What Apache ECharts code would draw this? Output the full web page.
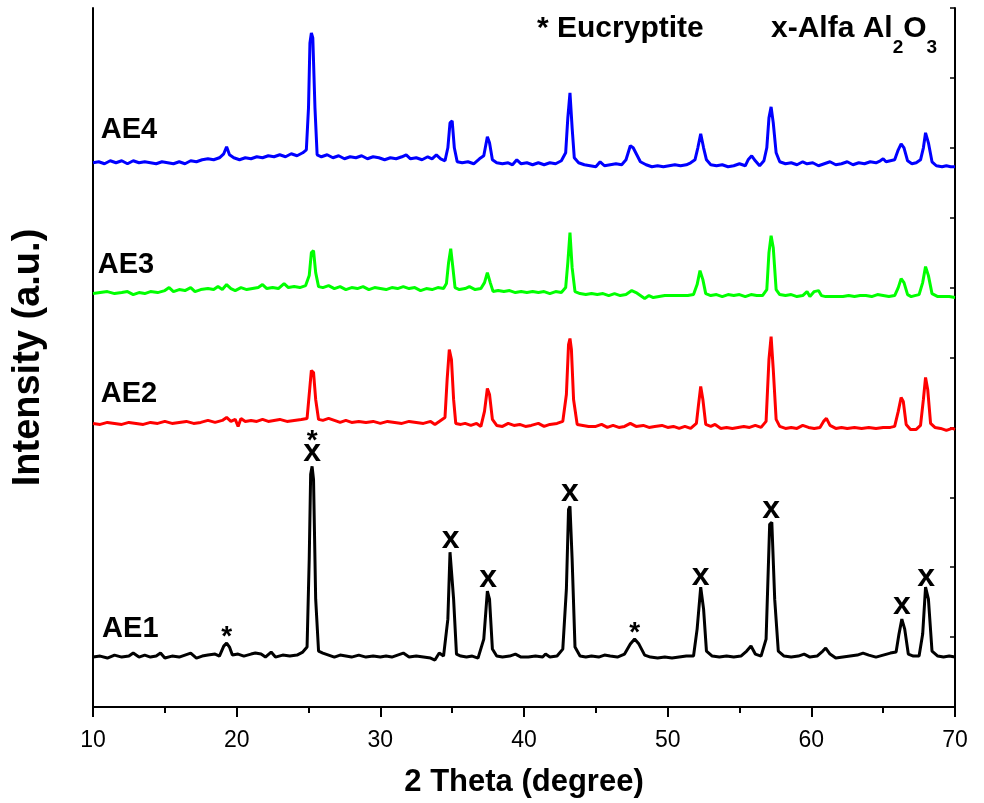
<!DOCTYPE html>
<html>
<head>
  <meta http-equiv="Content-Type" content="text/html; charset=utf-8"/>
  <title>XRD AE1-AE4</title>
  <script src="https://cdn.jsdelivr.net/npm/echarts@6.0.0/dist/echarts.min.js"></script>
</head>
<body style="margin:0px">
<div id="main" style="width:984px;height:803px;"></div>

<script type="text/javascript">
// intensity in a.u., curves already stacked (offset) as in the figure
var ae1 = [[10,50],[10.5,51],[11,49],[11.5,52],[12,50],[12.5,51],[12.8,54],[13.2,50],[13.6,52],[14,50],[14.4,51],[14.7,54],[15,49],[15.5,51],[16,50],[16.4,52],[16.8,54],[17.2,49],[17.6,51],[18,52],[18.5,53],[18.8,51],[19.1,61],[19.3,64],[19.5,60],[19.7,52],[20.1,53],[20.5,51],[21,53],[21.3,54],[21.7,53],[22,50],[22.4,55],[22.7,50],[23.2,52],[23.7,51],[24.2,52],[24.6,55],[24.9,60],[25.05,148],[25.15,233],[25.25,241],[25.35,228],[25.5,108],[25.7,56],[26,54],[26.4,52],[26.8,50],[27.2,52],[27.6,51],[28,50],[28.5,52],[29,50],[29.5,51],[30,50],[30.4,51],[30.8,50],[31.2,52],[31.6,54],[32,50],[32.5,51],[33,50],[33.5,49],[33.8,47],[34.1,54],[34.4,51],[34.7,88],[34.85,155],[34.95,153],[35.1,108],[35.3,53],[35.6,51],[36,50],[36.4,51],[36.8,49],[37.2,68],[37.45,116],[37.6,108],[37.8,58],[38.1,51],[38.5,50],[39,51],[39.4,53],[39.8,50],[40.3,50],[40.8,51],[41.3,50],[41.5,53],[41.8,50],[42.3,51],[42.7,58],[42.95,118],[43.1,198],[43.2,201],[43.35,148],[43.55,60],[43.9,51],[44.3,50],[44.7,51],[45.2,50],[45.6,52],[46,51],[46.5,50],[47,53],[47.4,63],[47.7,68],[48,63],[48.4,52],[48.8,50],[49.3,49],[49.8,50],[50.3,49],[50.8,50],[51.3,51],[51.8,51],[52.05,78],[52.3,120],[52.5,98],[52.7,56],[53.1,51],[53.6,50],[54.1,51],[54.6,50],[55.1,51],[55.5,56],[55.8,61],[56.1,53],[56.5,51],[56.85,68],[57.1,183],[57.25,185],[57.45,108],[57.7,56],[58.1,51],[58.6,50],[59.1,51],[59.5,53],[59.9,50],[60.4,51],[60.8,56],[61,59],[61.3,53],[61.7,49],[62.2,50],[62.7,51],[63.2,52],[63.6,54],[64,52],[64.5,50],[65,52],[65.5,54],[65.9,55],[66.1,73],[66.3,88],[66.5,78],[66.75,53],[67.1,51],[67.5,51],[67.75,73],[67.95,120],[68.15,108],[68.4,56],[68.8,51],[69.2,50],[69.6,51],[70,50]];

var ae2 = [[10,284],[10.5,283],[11,285],[11.5,284],[12,283],[12.5,285],[13,284],[13.5,283],[14,285],[14.5,284],[15,286],[15.5,284],[16,285],[16.5,286],[17,284],[17.5,285],[18,287],[18.5,285],[19,287],[19.3,290],[19.6,286],[19.9,288],[20.1,281],[20.3,289],[20.6,286],[21,287],[21.4,286],[21.8,288],[22.2,286],[22.6,287],[23,288],[23.5,286],[24,287],[24.5,288],[24.9,289],[25.05,313],[25.2,337],[25.35,335],[25.5,308],[25.7,288],[26,287],[26.4,289],[26.8,287],[27.2,285],[27.6,287],[28,285],[28.5,286],[29,285],[29.5,286],[30,284],[30.5,286],[31,285],[31.5,284],[32,286],[32.5,285],[33,284],[33.5,286],[33.8,283],[34.1,286],[34.5,290],[34.65,328],[34.8,358],[34.95,348],[35.1,308],[35.25,284],[35.6,283],[35.9,284],[36.3,282],[36.7,284],[37,281],[37.25,296],[37.45,319],[37.6,313],[37.8,288],[38.1,282],[38.5,281],[38.9,284],[39.3,282],[39.7,283],[40.1,281],[40.5,282],[41,284],[41.4,281],[41.8,283],[42.3,284],[42.7,286],[42.95,313],[43.1,363],[43.2,369],[43.3,358],[43.45,308],[43.7,283],[44.1,282],[44.5,281],[45,281],[45.4,283],[45.8,280],[46.2,282],[46.6,280],[47,281],[47.4,284],[47.8,281],[48.3,282],[48.7,280],[49.1,281],[49.6,282],[50,280],[50.4,281],[50.8,279],[51.2,281],[51.6,279],[52,284],[52.15,303],[52.3,321],[52.45,308],[52.65,283],[53,281],[53.3,283],[53.7,279],[54.1,280],[54.5,279],[54.9,280],[55.3,281],[55.7,280],[56.1,282],[56.5,280],[56.85,286],[57.05,348],[57.2,371],[57.35,338],[57.55,288],[57.8,281],[58.2,279],[58.6,280],[59,279],[59.4,282],[59.8,280],[60.2,279],[60.6,280],[60.85,286],[61.05,289],[61.3,282],[61.7,279],[62.1,280],[62.5,279],[63,280],[63.5,279],[64,280],[64.5,279],[65,280],[65.5,280],[65.8,281],[66.05,296],[66.25,310],[66.4,306],[66.6,283],[66.9,278],[67.3,278],[67.6,282],[67.8,308],[67.95,330],[68.1,318],[68.3,284],[68.6,280],[69,279],[69.4,277],[69.8,279],[70,278]];

var ae3 = [[10,414],[10.5,415],[11,416],[11.5,414],[12,415],[12.4,416],[12.8,413],[13.2,415],[13.6,414],[14,416],[14.5,415],[15,417],[15.3,420],[15.6,416],[16,418],[16.4,417],[16.8,420],[17.1,416],[17.5,418],[18,419],[18.4,418],[18.7,421],[19,418],[19.3,423],[19.6,419],[19.9,417],[20.3,420],[20.7,418],[21.1,419],[21.5,420],[21.8,423],[22.1,419],[22.5,420],[22.9,419],[23.3,424],[23.6,420],[24,421],[24.4,420],[24.8,422],[25.05,432],[25.2,455],[25.35,457],[25.5,435],[25.7,421],[26,420],[26.4,422],[26.8,419],[27.2,421],[27.6,418],[28,420],[28.4,419],[28.8,421],[29.2,418],[29.6,420],[30,419],[30.4,418],[30.8,420],[31.2,419],[31.6,421],[32,419],[32.4,420],[32.8,417],[33.2,419],[33.6,418],[34,420],[34.4,419],[34.6,424],[34.75,445],[34.9,459],[35.05,440],[35.2,420],[35.5,418],[35.9,419],[36.2,421],[36.6,418],[37,419],[37.25,425],[37.45,435],[37.65,425],[37.85,416],[38.2,417],[38.6,416],[39,417],[39.4,415],[39.8,416],[40.2,415],[40.6,416],[41,415],[41.4,416],[41.8,414],[42.2,416],[42.6,415],[42.9,420],[43.05,445],[43.2,475],[43.35,440],[43.55,416],[43.9,414],[44.3,413],[44.7,414],[45.1,413],[45.5,414],[45.9,412],[46.3,414],[46.7,412],[47.1,413],[47.5,417],[47.8,415],[48.1,412],[48.4,409],[48.7,412],[49,410],[49.4,411],[49.8,412],[50.2,412],[50.6,412],[51,412],[51.4,412],[51.8,413],[52.05,423],[52.25,437],[52.45,428],[52.65,414],[53,412],[53.4,413],[53.8,411],[54.2,413],[54.6,412],[55,413],[55.4,411],[55.8,413],[56.2,412],[56.6,412],[56.9,418],[57.05,455],[57.2,472],[57.35,460],[57.55,418],[57.8,413],[58.2,412],[58.6,413],[59,411],[59.4,412],[59.7,416],[59.9,411],[60.2,416],[60.5,417],[60.7,412],[61,411],[61.4,411],[61.8,411],[62.2,411],[62.6,412],[63,411],[63.4,412],[63.8,412],[64.2,411],[64.6,413],[65,412],[65.4,411],[65.8,412],[66.05,420],[66.25,429],[66.45,425],[66.7,413],[66.95,411],[67.2,412],[67.5,413],[67.75,425],[67.95,441],[68.15,432],[68.4,414],[68.8,411],[69.2,411],[69.6,411],[70,410]];

var ae4 = [[10,545],[10.4,546],[10.8,544],[11.2,547],[11.6,545],[12,547],[12.4,544],[12.8,547],[13.2,545],[13.6,546],[14,545],[14.4,544],[14.8,546],[15.2,545],[15.6,544],[16,546],[16.4,544],[16.8,547],[17.2,546],[17.6,548],[18,549],[18.4,548],[18.8,550],[19.1,554],[19.3,561],[19.5,553],[19.8,550],[20.2,548],[20.6,550],[21,549],[21.4,551],[21.8,550],[22.2,552],[22.6,551],[23,553],[23.4,551],[23.8,554],[24.2,552],[24.6,555],[24.85,558],[25,600],[25.1,665],[25.2,675],[25.3,670],[25.45,600],[25.6,553],[25.9,551],[26.3,553],[26.7,550],[27.1,552],[27.5,549],[27.9,551],[28.3,550],[28.7,552],[29.1,549],[29.5,551],[29.9,550],[30.3,548],[30.7,550],[31.1,549],[31.5,551],[31.8,553],[32.1,549],[32.5,550],[32.9,548],[33.3,551],[33.6,549],[33.9,553],[34.2,549],[34.5,547],[34.7,560],[34.85,585],[35,587],[35.15,560],[35.35,546],[35.7,545],[36.1,546],[36.5,544],[36.9,549],[37.2,552],[37.45,571],[37.6,565],[37.8,548],[38.1,545],[38.5,544],[38.9,545],[39.2,543],[39.5,548],[39.8,544],[40.2,545],[40.6,543],[41,545],[41.4,543],[41.8,545],[42.2,544],[42.6,547],[42.9,555],[43.05,590],[43.2,615],[43.35,580],[43.5,550],[43.8,545],[44.2,543],[44.6,542],[45,541],[45.3,546],[45.6,542],[46,543],[46.4,544],[46.8,543],[47.1,548],[47.4,562],[47.6,560],[47.85,553],[48.1,546],[48.5,543],[48.9,541],[49.3,542],[49.7,541],[50.1,542],[50.5,543],[50.9,542],[51.3,543],[51.6,545],[51.9,548],[52.1,560],[52.3,574],[52.5,560],[52.7,548],[53,543],[53.4,542],[53.8,543],[54.2,541],[54.6,542],[55,544],[55.4,542],[55.6,548],[55.85,552],[56.1,547],[56.4,542],[56.7,547],[56.9,560],[57.05,590],[57.2,601],[57.35,585],[57.55,555],[57.8,546],[58.2,544],[58.6,545],[59,543],[59.4,546],[59.7,544],[60.1,545],[60.5,542],[60.9,544],[61.3,546],[61.7,543],[62.1,544],[62.5,546],[62.9,543],[63.3,545],[63.7,544],[64.1,546],[64.5,545],[64.8,547],[65,549],[65.2,546],[65.5,547],[65.8,548],[66.05,558],[66.25,564],[66.45,560],[66.7,547],[67,544],[67.3,545],[67.6,548],[67.8,560],[67.95,575],[68.15,565],[68.4,546],[68.7,542],[69.1,541],[69.4,542],[69.7,541],[70,541]];

// peak markers on AE1 (x = alpha Al2O3, * = eucryptite)
var xMarks = [[25.25,255],[34.9,168],[37.5,129],[43.2,215],[52.3,131],[57.2,198],[66.3,102],[68.0,130]];
var starMarks = [[19.3,70],[25.25,266],[47.7,74]];
// sample names
var sampleNames = ['AE1','AE2','AE3','AE4'];
var samplePos = [[10.6,78],[10.5,313],[10.3,443],[10.5,578]];
var xTicks = [10,20,30,40,50,60,70];

var font = 'Arial, "Liberation Sans", sans-serif';

function lineSeries(name, data, color){
  return {
    name: name, type: 'line', data: data,
    showSymbol: false, symbol: 'none',
    lineStyle: {color: color, width: 3},
    itemStyle: {color: color},
    animation: false, z: 3
  };
}

function textSeries(pts, texts, fontSize, pos){
  var d = [];
  for(var i=0;i<pts.length;i++){
    d.push({value: pts[i], name: texts[i]});
  }
  return {
    type: 'scatter', data: d, symbolSize: 1,
    itemStyle: {color: 'rgba(0,0,0,0)', opacity: 1},
    label: {
      show: true, position: pos, distance: 0,
      formatter: function(p){ return p.name; },
      fontFamily: font, fontWeight: 'bold', fontSize: fontSize, color: '#000'
    },
    silent: true, animation: false, z: 5
  };
}

var xLabels = xMarks.map(function(){ return 'x'; });
var starLabels = starMarks.map(function(){ return '*'; });

var chart = echarts.init(document.getElementById('main'));
chart.setOption({
  backgroundColor: '#fff',
  animation: false,
  grid: {left: 93, right: 29, top: 8, bottom: 95},
  xAxis: [{
    type: 'value', min: xTicks[0], max: xTicks[xTicks.length-1], interval: 10,
    position: 'bottom',
    name: '2 Theta (degree)', nameLocation: 'middle', nameGap: 60,
    nameTextStyle: {fontFamily: font, fontWeight: 'bold', fontSize: 31, color: '#000'},
    axisLine: {show: true, lineStyle: {color: '#000', width: 2}},
    axisTick: {show: true, inside: false, length: 10, lineStyle: {color: '#000', width: 2}},
    minorTick: {show: true, splitNumber: 2, length: 6, lineStyle: {color: '#000', width: 2}},
    axisLabel: {fontFamily: font, fontSize: 23, color: '#000', margin: 22},
    splitLine: {show: false}
  }, {
    type: 'value', min: 10, max: 70, interval: 5,
    position: 'top',
    axisLine: {show: true, lineStyle: {color: '#000', width: 2}},
    axisTick: {show: true, inside: true, length: 5, lineStyle: {color: '#000', width: 1.5}},
    axisLabel: {show: false},
    splitLine: {show: false}
  }],
  yAxis: [{
    type: 'value', min: 0, max: 700, interval: 70,
    position: 'left',
    name: 'Intensity (a.u.)', nameLocation: 'middle', nameGap: 45,
    nameTextStyle: {fontFamily: font, fontWeight: 'bold', fontSize: 38, color: '#000'},
    axisLine: {show: true, lineStyle: {color: '#000', width: 2}},
    axisTick: {show: false},
    axisLabel: {show: false},
    splitLine: {show: false}
  }, {
    type: 'value', min: 0, max: 700, interval: 70,
    position: 'right',
    axisLine: {show: true, lineStyle: {color: '#000', width: 2}},
    axisTick: {show: true, inside: true, length: 5, lineStyle: {color: '#000', width: 1.5}},
    axisLabel: {show: false},
    splitLine: {show: false}
  }],
  graphic: [{
    type: 'text', left: 537, top: 14,
    style: {text: '* Eucryptite', fontFamily: font, fontWeight: 'bold', fontSize: 30, fill: '#000'}
  }, {
    type: 'text', left: 771, top: 14,
    style: {
      text: '{m|x-Alfa Al}{s|2}{m|O}{s|3}',
      rich: {
        m: {fontFamily: font, fontWeight: 'bold', fontSize: 30, fill: '#000', verticalAlign: 'bottom'},
        s: {fontFamily: font, fontWeight: 'bold', fontSize: 19, fill: '#000', verticalAlign: 'bottom', padding: [0,0,-13,0]}
      }
    }
  }],
  series: [
    lineSeries('AE1', ae1, '#000000'),
    lineSeries('AE2', ae2, '#ff0000'),
    lineSeries('AE3', ae3, '#00ff00'),
    lineSeries('AE4', ae4, '#0000ff'),
    textSeries(xMarks, xLabels, 32, 'inside'),
    textSeries(starMarks, starLabels, 28, 'inside'),
    textSeries(samplePos, sampleNames, 29, 'right')
  ]
});
</script>
</body>
</html>
